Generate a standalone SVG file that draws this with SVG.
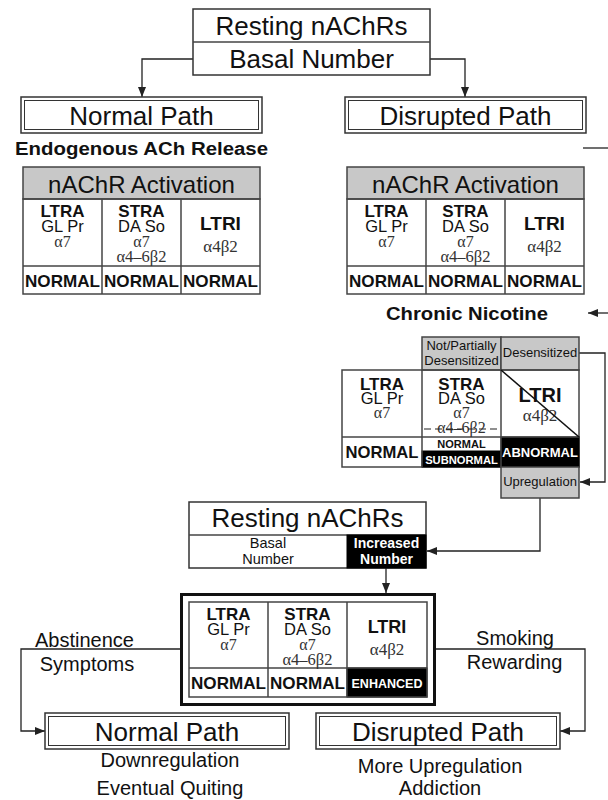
<svg xmlns="http://www.w3.org/2000/svg" width="608" height="800" viewBox="0 0 608 800">
<defs>
<marker id="ah" markerWidth="10" markerHeight="8" refX="10" refY="4" orient="auto" markerUnits="userSpaceOnUse"><path d="M0,0 L10,4 L0,8 Z" fill="#222"/></marker>
</defs>
<style>
.t{font-family:"Liberation Sans",Arial,sans-serif;fill:#111;text-anchor:middle}
.b{font-weight:bold}
.g{font-family:"Liberation Serif","Times New Roman",serif;fill:#333;text-anchor:middle}
.box{fill:#fff;stroke:#333;stroke-width:1.5}
.in{fill:none;stroke:#333;stroke-width:1}
.cell{fill:none;stroke:#444;stroke-width:1.5}
.gray{fill:#c8c8c8;stroke:#444;stroke-width:1.5}
.blk{fill:#000;stroke:#000;stroke-width:1}
.w{fill:#fff}
.ln{fill:none;stroke:#222;stroke-width:1.3}
</style>
<rect width="608" height="800" fill="#fff"/>

<g id="connectors">
<path class="ln" d="M193,59 H142 V97" marker-end="url(#ah)"/>
<path class="ln" d="M430,59 H465 V97" marker-end="url(#ah)"/>
<path class="ln" d="M583,148 H608"/>
<path class="ln" d="M608,313 H588" marker-end="url(#ah)"/>
<path class="ln" d="M579,353 H605 V482 H580" marker-end="url(#ah)"/>
<path class="ln" d="M540,498 V551 H427" marker-end="url(#ah)"/>
<path class="ln" d="M386,568 V593" marker-end="url(#ah)"/>
<path class="ln" d="M180,649 H21 V731 H45" marker-end="url(#ah)"/>
<path class="ln" d="M436,649 H585 V731 H560" marker-end="url(#ah)"/>
</g>

<g id="resting1">
<rect class="box" x="193" y="9" width="237" height="66"/>
<line class="cell" x1="193" y1="42" x2="430" y2="42"/>
<text class="t" x="311.5" y="35" font-size="26">Resting nAChRs</text>
<text class="t" x="311.5" y="68" font-size="26">Basal Number</text>
</g>

<g id="normalPathTop">
<rect class="box" x="21" y="97" width="241" height="36"/>
<rect class="in" x="24.5" y="100.5" width="234" height="29"/>
<text class="t" x="141.5" y="125" font-size="26">Normal Path</text>
</g>

<g id="disruptedPathTop">
<rect class="box" x="345" y="97" width="241" height="36"/>
<rect class="in" x="348.5" y="100.5" width="234" height="29"/>
<text class="t" x="465.5" y="125" font-size="26">Disrupted Path</text>
</g>

<g id="endogenous">
<text class="t b" x="141.5" y="155" font-size="18" textLength="253" lengthAdjust="spacingAndGlyphs">Endogenous ACh Release</text>
</g>

<g id="tableNormal">
<rect class="gray" x="23" y="167" width="237" height="32"/>
<rect class="cell" x="23" y="199" width="237" height="95"/>
<line class="cell" x1="23" y1="266" x2="260" y2="266"/>
<line class="cell" x1="102" y1="199" x2="102" y2="294"/>
<line class="cell" x1="181" y1="199" x2="181" y2="294"/>
<text class="t" x="141.5" y="193" font-size="24">nAChR Activation</text>
<text class="t b" x="62.5" y="217" font-size="17">LTRA</text>
<text class="t" x="62.5" y="232" font-size="16.5">GL Pr</text>
<text class="g" x="62.5" y="247" font-size="16">α7</text>
<text class="t b" x="141.5" y="217" font-size="17">STRA</text>
<text class="t" x="141.5" y="232" font-size="16.5">DA So</text>
<text class="g" x="141.5" y="247" font-size="16">α7</text>
<text class="g" x="141.5" y="262" font-size="16.5">α4–6β2</text>
<text class="t b" x="220.5" y="230" font-size="19">LTRI</text>
<text class="g" x="220.5" y="252" font-size="17">α4β2</text>
<text class="t b" x="62.5" y="287" font-size="17" textLength="75" lengthAdjust="spacingAndGlyphs">NORMAL</text>
<text class="t b" x="141.5" y="287" font-size="17" textLength="75" lengthAdjust="spacingAndGlyphs">NORMAL</text>
<text class="t b" x="220.5" y="287" font-size="17" textLength="75" lengthAdjust="spacingAndGlyphs">NORMAL</text>
</g>

<g id="tableDisrupted">
<rect class="gray" x="347" y="167" width="237" height="32"/>
<rect class="cell" x="347" y="199" width="237" height="95"/>
<line class="cell" x1="347" y1="266" x2="584" y2="266"/>
<line class="cell" x1="426" y1="199" x2="426" y2="294"/>
<line class="cell" x1="505" y1="199" x2="505" y2="294"/>
<text class="t" x="465.5" y="193" font-size="24">nAChR Activation</text>
<text class="t b" x="386.5" y="217" font-size="17">LTRA</text>
<text class="t" x="386.5" y="232" font-size="16.5">GL Pr</text>
<text class="g" x="386.5" y="247" font-size="16">α7</text>
<text class="t b" x="465.5" y="217" font-size="17">STRA</text>
<text class="t" x="465.5" y="232" font-size="16.5">DA So</text>
<text class="g" x="465.5" y="247" font-size="16">α7</text>
<text class="g" x="465.5" y="262" font-size="16.5">α4–6β2</text>
<text class="t b" x="544.5" y="230" font-size="19">LTRI</text>
<text class="g" x="544.5" y="252" font-size="17">α4β2</text>
<text class="t b" x="386.5" y="287" font-size="17" textLength="75" lengthAdjust="spacingAndGlyphs">NORMAL</text>
<text class="t b" x="465.5" y="287" font-size="17" textLength="75" lengthAdjust="spacingAndGlyphs">NORMAL</text>
<text class="t b" x="544.5" y="287" font-size="17" textLength="75" lengthAdjust="spacingAndGlyphs">NORMAL</text>
</g>

<g id="chronicNicotine">
<text class="t b" x="467" y="320" font-size="18" textLength="162" lengthAdjust="spacingAndGlyphs">Chronic Nicotine</text>
</g>

<g id="tableChronic">
<rect class="gray" x="422" y="337" width="79" height="33"/>
<rect class="gray" x="501" y="337" width="78" height="33"/>
<text class="t" x="461.5" y="350" font-size="13">Not/Partially</text>
<text class="t" x="461.5" y="365" font-size="13">Desensitized</text>
<text class="t" x="540" y="357" font-size="13">Desensitized</text>
<rect class="cell" x="342" y="370" width="237" height="97"/>
<rect class="blk" x="422" y="451" width="79" height="16"/>
<rect class="blk" x="501" y="437" width="78" height="30"/>
<line class="cell" x1="342" y1="437" x2="579" y2="437"/>
<line class="cell" x1="422" y1="370" x2="422" y2="467"/>
<line class="cell" x1="501" y1="370" x2="501" y2="467"/>
<text class="t b" x="382" y="390" font-size="17">LTRA</text>
<text class="t" x="382" y="404" font-size="16.5">GL Pr</text>
<text class="g" x="382" y="418" font-size="16">α7</text>
<text class="t b" x="461.5" y="390" font-size="17">STRA</text>
<text class="t" x="461.5" y="404" font-size="16.5">DA So</text>
<text class="g" x="461.5" y="418" font-size="16">α7</text>
<text class="g" x="461.5" y="433" font-size="16">α4–6β2</text>
<line x1="424" y1="429" x2="500" y2="429" stroke="#222" stroke-width="1.2" stroke-dasharray="7,4"/>
<text class="t b" x="540" y="402" font-size="20">LTRI</text>
<text class="g" x="540" y="421" font-size="17">α4β2</text>
<line x1="501" y1="370" x2="579" y2="437" stroke="#111" stroke-width="1.6"/>
<text class="t b" x="382" y="458" font-size="17" textLength="73" lengthAdjust="spacingAndGlyphs">NORMAL</text>
<text class="t b" x="461.5" y="448" font-size="11">NORMAL</text>
<text class="t b w" x="461.5" y="464" font-size="11.2">SUBNORMAL</text>
<text class="t b w" x="540" y="457" font-size="13">ABNORMAL</text>
</g>

<g id="upregulation">
<rect class="gray" x="501" y="467" width="78" height="31"/>
<text class="t" x="540" y="486" font-size="13">Upregulation</text>
</g>

<g id="resting2">
<rect class="box" x="189" y="502" width="237" height="66"/>
<line class="cell" x1="189" y1="535" x2="426" y2="535"/>
<rect class="blk" x="347" y="535" width="79" height="33"/>
<text class="t" x="307.5" y="527" font-size="26">Resting nAChRs</text>
<text class="t" x="268" y="548" font-size="14.5">Basal</text>
<text class="t" x="268" y="564" font-size="14.5">Number</text>
<text class="t b w" x="386.5" y="548" font-size="14">Increased</text>
<text class="t b w" x="386.5" y="564" font-size="14">Number</text>
</g>

<g id="tableEnhanced">
<rect x="181.5" y="594.5" width="253" height="110" fill="#fff" stroke="#111" stroke-width="3"/>
<rect class="blk" x="347" y="668" width="80" height="29"/>
<rect class="cell" x="189" y="602" width="238" height="95"/>
<line class="cell" x1="189" y1="668" x2="427" y2="668"/>
<line class="cell" x1="268" y1="602" x2="268" y2="697"/>
<line class="cell" x1="347" y1="602" x2="347" y2="697"/>
<text class="t b" x="228.5" y="620" font-size="17">LTRA</text>
<text class="t" x="228.5" y="635" font-size="16.5">GL Pr</text>
<text class="g" x="228.5" y="650" font-size="16">α7</text>
<text class="t b" x="307.5" y="620" font-size="17">STRA</text>
<text class="t" x="307.5" y="635" font-size="16.5">DA So</text>
<text class="g" x="307.5" y="650" font-size="16">α7</text>
<text class="g" x="307.5" y="665" font-size="16.5">α4–6β2</text>
<text class="t b" x="387" y="633" font-size="18">LTRI</text>
<text class="g" x="387" y="655" font-size="17">α4β2</text>
<text class="t b" x="228.5" y="689" font-size="17" textLength="75" lengthAdjust="spacingAndGlyphs">NORMAL</text>
<text class="t b" x="307.5" y="689" font-size="17" textLength="75" lengthAdjust="spacingAndGlyphs">NORMAL</text>
<text class="t b w" x="387" y="688" font-size="13" textLength="71" lengthAdjust="spacingAndGlyphs">ENHANCED</text>
</g>

<g id="labels">
<text class="t" x="84.5" y="647" font-size="20">Abstinence</text>
<text class="t" x="87" y="671" font-size="20">Symptoms</text>
<text class="t" x="515" y="645" font-size="20">Smoking</text>
<text class="t" x="514.5" y="669" font-size="20">Rewarding</text>
</g>

<g id="normalPathBottom">
<rect class="box" x="45" y="713" width="244" height="36"/>
<rect class="in" x="48.5" y="716.5" width="237" height="29"/>
<text class="t" x="167" y="741" font-size="26">Normal Path</text>
<text class="t" x="170" y="767" font-size="20">Downregulation</text>
<text class="t" x="170" y="795" font-size="20">Eventual Quiting</text>
</g>

<g id="disruptedPathBottom">
<rect class="box" x="316" y="713" width="244" height="36"/>
<rect class="in" x="319.5" y="716.5" width="237" height="29"/>
<text class="t" x="438" y="741" font-size="26">Disrupted Path</text>
<text class="t" x="440" y="773" font-size="20">More Upregulation</text>
<text class="t" x="440" y="795" font-size="20">Addiction</text>
</g>
</svg>
